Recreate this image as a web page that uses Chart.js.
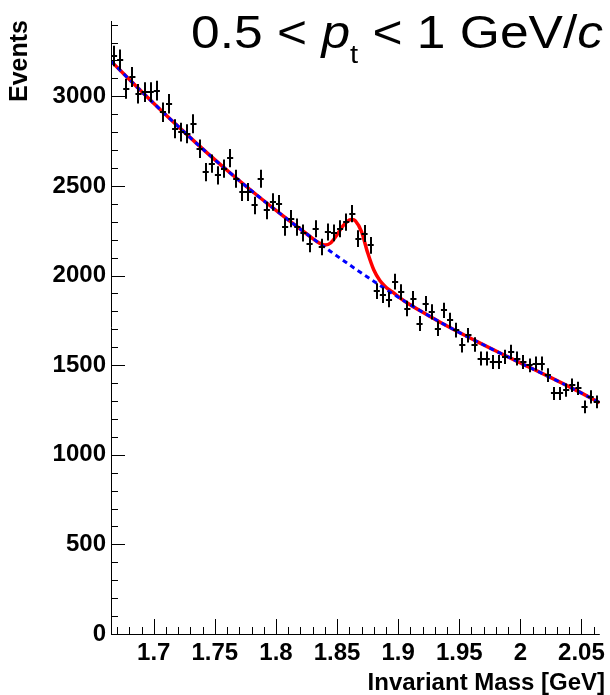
<!DOCTYPE html>
<html>
<head>
<meta charset="utf-8">
<script src="https://cdn.jsdelivr.net/npm/chart.js@4.4.0/dist/chart.umd.min.js"></script>
<style>
  html, body { margin: 0; padding: 0; background: #fff; }
  #wrap { width: 610px; height: 695px; }
</style>
</head>
<body>
<div id="wrap"><canvas id="chart" width="610" height="695"></canvas></div>
<script>
// histogram bin centres [GeV] and counts
const massBins = [
  1.6675, 1.6725, 1.6775, 1.6825, 1.6875, 1.6925, 1.6975, 1.7025, 1.7075, 1.7125,
  1.7175, 1.7225, 1.7275, 1.7325, 1.7375, 1.7425, 1.7475, 1.7525, 1.7575, 1.7625,
  1.7675, 1.7725, 1.7775, 1.7825, 1.7875, 1.7925, 1.7975, 1.8025, 1.8075, 1.8125,
  1.8175, 1.8225, 1.8275, 1.8325, 1.8375, 1.8425, 1.8475, 1.8525, 1.8575, 1.8625,
  1.8675, 1.8725, 1.8775, 1.8825, 1.8875, 1.8925, 1.8975, 1.9025, 1.9075, 1.9125,
  1.9175, 1.9225, 1.9275, 1.9325, 1.9375, 1.9425, 1.9475, 1.9525, 1.9575, 1.9625,
  1.9675, 1.9725, 1.9775, 1.9825, 1.9875, 1.9925, 1.9975, 2.0025, 2.0075, 2.0125,
  2.0175, 2.0225, 2.0275, 2.0325, 2.0375, 2.0425, 2.0475, 2.0525, 2.0575, 2.0625
];
const counts = [
  3225, 3205, 3042, 3107, 3014, 3023, 3023, 3032, 2911, 2958,
  2819, 2800, 2791, 2847, 2707, 2577, 2624, 2559, 2596, 2655,
  2540, 2466, 2466, 2391, 2540, 2363, 2410, 2400, 2270, 2317,
  2270, 2237, 2177, 2261, 2159, 2243, 2238, 2261, 2298, 2345,
  2206, 2234, 2168, 1913, 1890, 1866, 1966, 1908, 1816, 1871,
  1732, 1843, 1797, 1704, 1806, 1750, 1695, 1611, 1667, 1615,
  1537, 1537, 1518, 1518, 1546, 1574, 1537, 1518, 1499, 1509,
  1509, 1444, 1342, 1342, 1360, 1388, 1370, 1267, 1323, 1295
];
const binWidth = 0.005;

// signal + background fit (red)
const fitX = [
  1.665, 1.685, 1.705, 1.725, 1.745, 1.765, 1.785, 1.805, 1.825, 1.835,
  1.840, 1.845, 1.850, 1.855, 1.860, 1.8625, 1.865, 1.870, 1.875, 1.880,
  1.885, 1.890, 1.895, 1.905, 1.925, 1.945, 1.965, 1.985, 2.005, 2.025,
  2.045, 2.065
];
const fitTotal = [
  3196, 3060, 2928, 2800, 2676, 2558, 2445, 2337, 2233, 2183,
  2170, 2183, 2228, 2278, 2310, 2313, 2305, 2245, 2128, 2032,
  1972, 1935, 1910, 1858, 1776, 1700, 1630, 1562, 1496, 1430,
  1362, 1290
];

// background fit (blue dashed)
const bgX = [
  1.665, 1.685, 1.705, 1.725, 1.745, 1.765, 1.785, 1.805, 1.825, 1.845,
  1.865, 1.885, 1.905, 1.925, 1.945, 1.965, 1.985, 2.005, 2.025, 2.045, 2.065
];
const bgFit = [
  3196, 3060, 2928, 2800, 2676, 2558, 2445, 2337, 2233, 2133,
  2037, 1945, 1858, 1776, 1700, 1630, 1562, 1496, 1430, 1362, 1290
];

const xMajorTicks = [1.7, 1.75, 1.8, 1.85, 1.9, 1.95, 2, 2.05];
const yMajorTicks = [0, 500, 1000, 1500, 2000, 2500, 3000];

const FONT = "'Liberation Sans', Arial, Helvetica, sans-serif";

// ROOT style frame: ticks inside, axis titles at the far ends
const rootAxes = {
  id: 'rootAxes',
  afterDraw(chart) {
    const ctx = chart.ctx;
    const a = chart.chartArea;
    const xs = chart.scales.x, ys = chart.scales.y;
    ctx.save();
    ctx.strokeStyle = '#000';
    ctx.lineWidth = 1;
    ctx.beginPath();
    ctx.moveTo(a.left + 0.5, a.top);
    ctx.lineTo(a.left + 0.5, a.bottom + 0.5);
    ctx.lineTo(a.right, a.bottom + 0.5);
    for (let k = 167; k <= 206; k++) {
      const px = Math.round(xs.getPixelForValue(k / 100)) + 0.5;
      const major = (k % 5 === 0);
      ctx.moveTo(px, a.bottom);
      ctx.lineTo(px, a.bottom - (major ? 15 : 7));
    }
    for (let v = 0; v <= ys.max; v += 100) {
      const py = Math.round(ys.getPixelForValue(v)) + 0.5;
      const major = (v % 500 === 0);
      ctx.moveTo(a.left, py);
      ctx.lineTo(a.left + (major ? 14 : 7), py);
    }
    ctx.stroke();

    ctx.fillStyle = '#000';
    ctx.font = 'bold 24px ' + FONT;
    ctx.textAlign = 'right';
    ctx.textBaseline = 'alphabetic';
    ctx.fillText('Invariant Mass [GeV]', 605, 690);

    ctx.translate(27, a.top - 1);
    ctx.rotate(-Math.PI / 2);
    ctx.font = 'bold 25px ' + FONT;
    ctx.fillText('Events', 0, 0);
    ctx.restore();
  }
};

// error crosses for the histogram
const errorCrosses = {
  id: 'errorCrosses',
  afterDatasetsDraw(chart) {
    const ctx = chart.ctx;
    const xs = chart.scales.x, ys = chart.scales.y;
    ctx.save();
    ctx.strokeStyle = '#000';
    ctx.lineWidth = 2;
    ctx.beginPath();
    for (let i = 0; i < counts.length; i++) {
      const x = massBins[i], n = counts[i], e = Math.sqrt(n);
      const px = Math.round(xs.getPixelForValue(x));
      const py = Math.round(ys.getPixelForValue(n));
      ctx.moveTo(xs.getPixelForValue(x - binWidth / 2), py);
      ctx.lineTo(xs.getPixelForValue(x + binWidth / 2), py);
      ctx.moveTo(px, ys.getPixelForValue(n + e));
      ctx.lineTo(px, ys.getPixelForValue(n - e));
    }
    ctx.stroke();
    ctx.restore();
  }
};

// "0.5 < p_t < 1 GeV/c" label, slightly stretched like the original picture
const ptLabel = {
  id: 'ptLabel',
  afterDraw(chart) {
    const ctx = chart.ctx;
    const size = 46, stretch = 1.12;
    const parts = [
      { t: '0.5 < ', f: size + 'px ' + FONT, dy: 0 },
      { t: 'p', f: 'italic ' + size + 'px ' + FONT, dy: 0 },
      { t: 't', f: '26px ' + FONT, dy: 15 },
      { t: ' < 1 GeV/', f: size + 'px ' + FONT, dy: 0 },
      { t: 'c', f: 'italic ' + size + 'px ' + FONT, dy: 0 }
    ];
    ctx.save();
    let w = 0;
    parts.forEach(p => { ctx.font = p.f; p.w = ctx.measureText(p.t).width; w += p.w; });
    ctx.translate(603 - w * stretch, 48);
    ctx.scale(stretch, 1);
    ctx.fillStyle = '#000';
    ctx.textBaseline = 'alphabetic';
    let x = 0;
    parts.forEach(p => {
      ctx.font = p.f;
      ctx.fillText(p.t, x, p.dy);
      x += p.w;
    });
    ctx.restore();
  }
};

const histData = massBins.map((x, i) => ({ x: x, y: counts[i] }));
const totalData = fitX.map((x, i) => ({ x: x, y: fitTotal[i] }));
const bgData = bgX.map((x, i) => ({ x: x, y: bgFit[i] }));

new Chart(document.getElementById('chart'), {
  type: 'line',
  data: {
    datasets: [
      { label: 'data', data: histData, showLine: false, pointRadius: 0, order: 0 },
      { label: 'background', data: bgData, borderColor: '#0000ff', borderWidth: 3,
        borderDash: [5, 4], pointRadius: 0, fill: false, cubicInterpolationMode: 'monotone', order: 1 },
      { label: 'signal+background', data: totalData, borderColor: '#ff0000', borderWidth: 3.5,
        pointRadius: 0, fill: false, cubicInterpolationMode: 'monotone', order: 2 }
    ]
  },
  options: {
    responsive: false,
    animation: false,
    events: [],
    devicePixelRatio: 1,
    layout: { padding: { top: 21, right: 5, left: 0, bottom: 0 } },
    plugins: { legend: { display: false }, tooltip: { enabled: false } },
    scales: {
      x: {
        type: 'linear', min: 1.665, max: 2.065,
        afterBuildTicks: s => { s.ticks = xMajorTicks.map(v => ({ value: v })); },
        afterFit: s => { s.height = 61; },
        grid: { display: false, drawTicks: false },
        border: { display: false },
        ticks: { color: '#000', padding: 5, maxRotation: 0, autoSkip: false,
          font: { family: FONT, size: 24, weight: 'bold' }, callback: v => String(v) },
        title: { display: false }
      },
      y: {
        type: 'linear', min: 0, max: 3420,
        afterBuildTicks: s => { s.ticks = yMajorTicks.map(v => ({ value: v })); },
        afterFit: s => { s.width = 111; },
        grid: { display: false, drawTicks: false },
        border: { display: false },
        ticks: { color: '#000', padding: 5, autoSkip: false,
          font: { family: FONT, size: 24, weight: 'bold' }, callback: v => String(v) },
        title: { display: false }
      }
    }
  },
  plugins: [rootAxes, errorCrosses, ptLabel]
});
</script>
</body>
</html>
